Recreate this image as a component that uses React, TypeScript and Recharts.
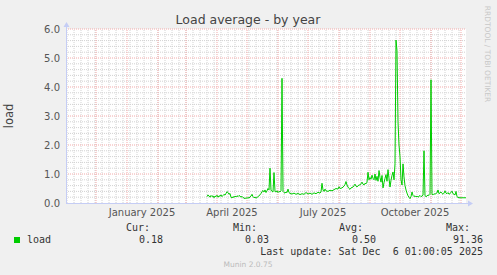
import React from "react";
import { LineChart, Line, XAxis, YAxis, CartesianGrid, ReferenceLine } from "recharts";

// ---- data (x = days since 2024-11-01) ----
const days = [
  141,142,143,144,145,146,147,148,149,150,151,152,153,154,155,156,157,158,159,160,
  161,162,163,164,165,166,167,168,169,170,171,172,173,174,175,176,177,178,179,180,
  181,182,183,184,185,186,187,188,189,190,191,192,193,194,195,196,197,198,199,200,
  201,202,203,204,205,206,207,208,209,210,211,212,213,214,215,216,217,218,219,220,
  221,222,223,224,226,228,230,232,234,236,238,240,242,244,246,248,250,252,254,255,
  256,257,258,259,260,262,264,266,268,270,272,273,274,276,278,279,280,281,282,283,
  284,285,287,288,289,290,291,292,294,295,296,297,298,299,300,301,302,303,304,305,
  306,307,308,309,310,311,312,313,314,315,316,317,318,319,320,321,322,323,324,325,
  326,327,328,329,330,331,332,333,334,335,336,337,338,339,340,341,342,343,344,345,
  346,347,348,349,350,351,352,353,354,355,356,357,358,359,360,361,362,363,364,365,
  366,367,368,369,370,371,372,373,374,375,376,377,378,379,380,381,382,383,384,385,
  386,387,388,389,390,391,392,394,396,398,400,
];
const load = [
  0.22,0.28,0.24,0.20,0.26,0.22,0.25,0.18,0.24,0.22,0.27,0.20,0.25,0.23,0.28,0.22,0.26,0.30,0.27,0.33,
  0.39,0.36,0.30,0.33,0.20,0.17,0.22,0.19,0.24,0.21,0.25,0.22,0.26,0.24,0.20,0.23,0.19,0.17,0.15,0.18,
  0.16,0.19,0.17,0.21,0.24,0.30,0.22,0.18,0.20,0.17,0.19,0.22,0.25,0.28,0.33,0.40,0.43,0.38,0.45,0.36,
  0.42,0.50,0.45,1.20,0.45,0.40,0.38,1.05,0.40,0.38,0.42,0.36,0.40,0.38,0.42,4.30,0.40,0.36,0.34,0.38,
  0.36,0.48,0.36,0.33,0.31,0.34,0.30,0.33,0.29,0.32,0.30,0.36,0.31,0.34,0.30,0.35,0.32,0.37,0.34,0.38,
  0.68,0.45,0.40,0.48,0.42,0.40,0.44,0.42,0.46,0.50,0.48,0.56,0.50,0.52,0.58,0.64,0.74,0.62,0.55,0.50,
  0.47,0.52,0.55,0.60,0.65,0.58,0.55,0.60,0.63,0.66,0.72,0.65,0.62,0.68,0.66,0.72,1.06,0.80,0.88,0.82,
  0.96,0.85,0.80,1.00,0.78,0.92,0.75,1.12,0.88,0.72,0.95,0.52,0.70,0.85,0.98,0.75,1.15,0.85,0.55,0.78,
  0.95,1.07,0.80,1.35,5.62,5.25,2.80,2.00,1.60,0.80,0.62,1.35,0.90,0.60,0.45,0.34,0.25,0.20,0.15,0.22,
  0.38,0.26,0.22,0.25,0.21,0.24,0.20,0.23,0.26,0.22,0.24,0.27,1.80,0.25,0.22,0.24,0.28,0.26,0.30,4.25,
  0.30,0.28,0.32,0.30,0.33,0.35,0.45,0.32,0.35,0.38,0.33,0.30,0.34,0.42,0.34,0.32,0.36,0.30,0.33,0.36,
  0.41,0.32,0.30,0.28,0.40,0.22,0.19,0.18,0.18,0.18,0.18,
];

const xLabelDays = [76, 166, 257, 349];
const xLabels = ["January 2025", "April 2025", "July 2025", "October 2025"];
const monthStartDays = [30, 61, 92, 120, 151, 181, 212, 242, 273, 304, 334, 365, 395];
const weekDays = Array.from({ length: 58 }, (_, i) => 1 + 7 * i).filter((d) => d < 400);
const yTicks = [0, 1, 2, 3, 4, 5, 6];
const yMinor = [0.2,0.4,0.6,0.8,1.2,1.4,1.6,1.8,2.2,2.4,2.6,2.8,3.2,3.4,3.6,3.8,4.2,4.4,4.6,4.8,5.2,5.4,5.6,5.8];

const TITLE = "Load average - by year";
const Y_LABEL = "load";
const SERIES_NAME = "load";
const LEGEND_HEADERS = ["Cur:", "Min:", "Avg:", "Max:"];
const LEGEND_VALUES = ["0.18", "0.03", "0.50", "91.36"];
const LAST_UPDATE = "Last update: Sat Dec  6 01:00:05 2025";
const FOOTER = "Munin 2.0.75";
const WATERMARK = "RRDTOOL / TOBI OETIKER";

// ---- layout ----
const W = 497;
const H = 275;
const PL = 66, PR = 466, PT = 29, PB = 203;
const HEADER_RIGHT = [150, 257, 363, 470];
const VALUE_RIGHT = [163, 269, 376, 483];
const AXIS_COLOR = "#c5cdf5";
const LINE_COLOR = "#00cc00";
const MINOR_GRID = "#d2d2d2";
const MAJOR_GRID = "#f2aaaa";

const data = days.map((d, i) => ({ day: d, load: load[i] }));

export default function App() {
  const sans = "'DejaVu Sans', sans-serif";
  const mono = "'DejaVu Sans Mono', monospace";
  return (
    <div style={{ position: "fixed", left: 0, top: 0, width: W, height: H, background: "#f0f0f0", overflow: "hidden" }}>
      <LineChart
        width={W}
        height={H}
        data={data}
        margin={{ top: PT, right: W - PR, bottom: H - PB - 20, left: PL - 60 }}
      >
        <CartesianGrid fill="#ffffff" horizontal={false} vertical={false} />
        {yMinor.map((v) => (
          <ReferenceLine key={"ym" + v} y={v} stroke={MINOR_GRID} strokeDasharray="1 1" strokeWidth={1} />
        ))}
        {weekDays.map((d) => (
          <ReferenceLine key={"xw" + d} x={d} stroke={MINOR_GRID} strokeDasharray="1 1" strokeWidth={1} />
        ))}
        {yTicks.slice(1).map((v) => (
          <ReferenceLine key={"yM" + v} y={v} stroke={MAJOR_GRID} strokeDasharray="1 1" strokeWidth={1} />
        ))}
        {monthStartDays.map((d) => (
          <ReferenceLine key={"xM" + d} x={d} stroke={MAJOR_GRID} strokeDasharray="1 1" strokeWidth={1} />
        ))}
        <XAxis
          dataKey="day"
          type="number"
          domain={[0, 400]}
          ticks={xLabelDays}
          interval={0}
          allowDataOverflow
          height={20}
          axisLine={false}
          tickLine={false}
          tickSize={0}
          tickMargin={6}
          tickFormatter={(v: number) => xLabels[xLabelDays.indexOf(v)] ?? ""}
          tick={{ fill: "#555", fontSize: 10, fontFamily: sans }}
        />
        <YAxis
          type="number"
          domain={[0, 6]}
          ticks={yTicks}
          interval={0}
          width={60}
          axisLine={false}
          tickLine={false}
          tickSize={0}
          tickMargin={6}
          tickFormatter={(v: number) => v.toFixed(1)}
          tick={{ fill: "#555", fontSize: 10, fontFamily: sans }}
        />
        <Line
          type="linear"
          dataKey="load"
          stroke={LINE_COLOR}
          strokeWidth={1}
          dot={false}
          isAnimationActive={false}
        />
      </LineChart>
      <svg width={W} height={H} style={{ position: "absolute", left: 0, top: 0, pointerEvents: "none" }}>
        {/* axes with arrows */}
        <line x1={PL} y1={PB + 0.5} x2={PR + 4} y2={PB + 0.5} stroke={AXIS_COLOR} strokeWidth={1} />
        <polygon points={`${PR + 2},${PB - 2.5} ${PR + 2},${PB + 3.5} ${PR + 7},${PB + 0.5}`} fill={AXIS_COLOR} />
        <line x1={PL + 0.5} y1={PB} x2={PL + 0.5} y2={PT - 4} stroke={AXIS_COLOR} strokeWidth={1} />
        <polygon points={`${PL - 2.5},${PT - 2} ${PL + 3.5},${PT - 2} ${PL + 0.5},${PT - 7}`} fill={AXIS_COLOR} />

        <text x={248} y={24} textAnchor="middle" fontFamily={sans} fontSize={12.5} fill="#444">{TITLE}</text>
        <text x={13} y={116} textAnchor="middle" fontFamily={sans} fontSize={11.5} fill="#444" transform="rotate(-90 13 116)">{Y_LABEL}</text>
        <text x={485} y={54} textAnchor="middle" fontFamily={sans} fontSize={7.5} fill="#c8c8c8" transform="rotate(90 485 54)">{WATERMARK}</text>

        {LEGEND_HEADERS.map((h, i) => (
          <text key={h} x={HEADER_RIGHT[i]} y={231} textAnchor="end" fontFamily={mono} fontSize={10} fill="#333">{h}</text>
        ))}
        <rect x={14} y={237} width={6} height={6} fill={LINE_COLOR} />
        <text x={27} y={243} fontFamily={mono} fontSize={10} fill="#333">{SERIES_NAME}</text>
        {LEGEND_VALUES.map((v, i) => (
          <text key={"v" + i} x={VALUE_RIGHT[i]} y={243} textAnchor="end" fontFamily={mono} fontSize={10} fill="#333">{v}</text>
        ))}
        <text x={483} y={255} textAnchor="end" fontFamily={mono} fontSize={10} fill="#333" style={{ whiteSpace: "pre" }}>{LAST_UPDATE}</text>
        <text x={248} y={267} textAnchor="middle" fontFamily={sans} fontSize={7.5} fill="#bbbbbb">{FOOTER}</text>
      </svg>
    </div>
  );
}
